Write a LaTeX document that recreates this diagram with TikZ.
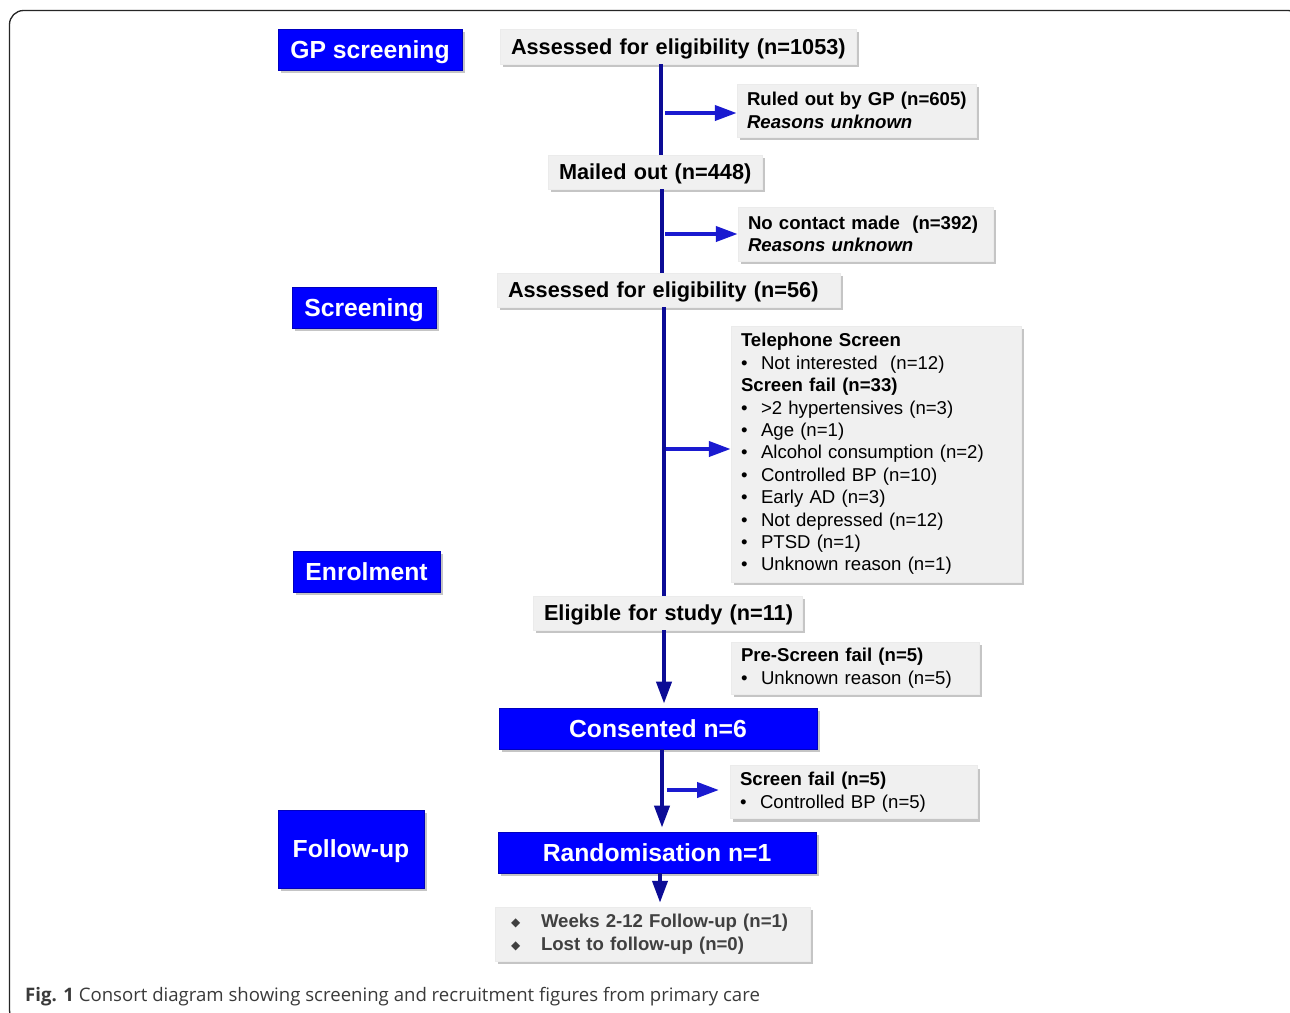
\documentclass[tikz,border=0pt]{standalone}
\usepackage{fontspec}
\setmainfont{Liberation Sans}
\newfontfamily\capfont{Open Sans}
\newfontfamily\symfont{DejaVu Sans}
\usetikzlibrary{shadows,arrows.meta,calc}
\definecolor{boxblue}{HTML}{0000FF}
\definecolor{boxgray}{HTML}{F0F0F0}
\definecolor{navy}{HTML}{0C0C96}
\definecolor{arrowblue}{HTML}{1A1AD0}
\definecolor{captext}{HTML}{3A3A3A}
\definecolor{wtext}{HTML}{404040}
\newcommand\consitem[1]{\mbox{\makebox[20pt][l]{\textbullet}#1}}
\newcommand\diaitem[1]{\mbox{\makebox[30pt][l]{\raisebox{1pt}{\symfont\fontsize{12}{12}\selectfont ◆}}#1}}
\tikzset{
 sh/.style={drop shadow={shadow xshift=2.5pt,shadow yshift=-3pt,fill=black!50,opacity=0.45}},
 bluebox/.style={sh, fill=boxblue, draw=blue!75!black, line width=0.8pt, inner sep=0pt, text=white,
   font=\fontsize{24.7}{28}\selectfont\bfseries, align=center, text depth=0pt},
 graybox/.style={sh, fill=boxgray, draw=black!8, line width=0.5pt, inner sep=0pt, align=left},
 big/.style={font=\fontsize{21.7}{26}\selectfont\bfseries, text depth=0pt},
 small/.style={font=\fontsize{18.6}{22.4}\selectfont},
 vline/.style={draw=navy, line width=4pt},
 varrow/.style={vline, -{Triangle[width=15pt,length=22pt]}, shorten >=4pt},
 harrow/.style={draw=arrowblue, line width=4pt, -{Triangle[width=15pt,length=22pt]}},
}
\begin{document}
\begin{tikzpicture}[x=1pt,y=-1pt]
\useasboundingbox (0,0) rectangle (1290,1012);
\fill[white] (0,0) rectangle (1290,1012);
\draw[line width=1.3pt, draw=black!85, rounded corners=14pt] (9.5,10.5) rectangle (1302,1024);

% left stage labels
\node[bluebox, minimum width=184, minimum height=41] (gp) at (370,49.5) {GP screening};
\node[bluebox, minimum width=144, minimum height=41] (scr) at (364,307.5) {Screening};
\node[bluebox, minimum width=147, minimum height=41] (enr) at (366.5,571.5) {Enrolment};
\node[bluebox, minimum width=146, minimum height=78] (fu) at (351,849) {Follow-up};

% main flow
\node[graybox, big, minimum width=356, minimum height=35, text width=334] (a1) at (678,46.5) {\mbox{Assessed for eligibility (n=1053)}};
\node[graybox, small, minimum width=239, minimum height=53, text width=219] (ruled) at (856.5,110.5)
  {\mbox{\textbf{Ruled out by GP (n=605)}}\\\mbox{\textbf{\textit{Reasons unknown}}}};
\node[graybox, big, minimum width=214, minimum height=34, text width=192] (mailed) at (655,172) {\mbox{Mailed out (n=448)}};
\node[graybox, small, minimum width=255, minimum height=54, text width=235] (nocontact) at (865.5,234)
  {\mbox{\textbf{No contact made\ \ (n=392)}}\\\mbox{\textbf{\textit{Reasons unknown}}}};
\node[graybox, big, minimum width=343, minimum height=34, text width=321] (a2) at (668.5,290) {\mbox{Assessed for eligibility (n=56)}};
\node[graybox, small, minimum width=290, minimum height=256, text width=270] (tel) at (876,454)
  {\mbox{\textbf{Telephone Screen}}\\
   \consitem{Not interested\ \ (n=12)}\\
   \mbox{\textbf{Screen fail (n=33)}}\\
   \consitem{>2 hypertensives (n=3)}\\
   \consitem{Age (n=1)}\\
   \consitem{Alcohol consumption (n=2)}\\
   \consitem{Controlled BP (n=10)}\\
   \consitem{Early AD (n=3)}\\
   \consitem{Not depressed (n=12)}\\
   \consitem{PTSD (n=1)}\\
   \consitem{Unknown reason (n=1)}};
\node[graybox, big, minimum width=269, minimum height=34, text width=247] (elig) at (667.5,613) {\mbox{Eligible for study (n=11)}};
\node[graybox, small, minimum width=248, minimum height=52, text width=228] (pre) at (855,668)
  {\mbox{\textbf{Pre-Screen fail (n=5)}}\\\consitem{Unknown reason (n=5)}};
\node[bluebox, minimum width=318, minimum height=41] (cons) at (658,728.5) {Consented n=6};
\node[graybox, small, minimum width=247, minimum height=53, text width=227] (sf) at (853.5,792)
  {\mbox{\textbf{Screen fail (n=5)}}\\\consitem{Controlled BP (n=5)}};
\node[bluebox, minimum width=318, minimum height=41] (rand) at (657,852.5) {Randomisation n=1};
\node[graybox, small, text=wtext, minimum width=315, minimum height=54, text width=283] (weeks) at (652.5,934)
  {\textbf{\diaitem{Weeks 2-12 Follow-up (n=1)}}\\\textbf{\diaitem{Lost to follow-up (n=0)}}};

% vertical connectors
\coordinate (c1) at (661,0);
\coordinate (c2) at (662,0);
\coordinate (c3) at (664,0);
\coordinate (c4) at (662,0);
\coordinate (c5) at (660,0);
\draw[vline] (a1.south -| c1) -- (mailed.north -| c1);
\draw[vline] (mailed.south -| c2) -- (a2.north -| c2);
\draw[vline] (a2.south -| c3) -- (elig.north -| c3);
\draw[varrow] (elig.south -| c3) -- (cons.north -| c3);
\draw[varrow] (cons.south -| c4) -- (rand.north -| c4);
\draw[varrow] (rand.south -| c5) -- (weeks.north -| c5);

% horizontal exclusion arrows
\coordinate (h1) at (665,113);
\coordinate (h2) at (665,234);
\coordinate (h3) at (666,449);
\coordinate (h4) at (667,790);
\coordinate (h4e) at (719,790);
\draw[harrow] (h1) -- (h1 -| ruled.west);
\draw[harrow] (h2) -- (h2 -| nocontact.west);
\draw[harrow] (h3) -- (h3 -| tel.west);
\draw[harrow] (h4) -- (h4e);

% caption
\node[anchor=base west, inner sep=0pt, text=captext, font=\capfont\fontsize{18.6}{22}\selectfont] (cap) at (25,1001)
  {\textbf{Fig. 1} Consort diagram showing screening and recruitment figures from primary care};
\end{tikzpicture}
\end{document}
